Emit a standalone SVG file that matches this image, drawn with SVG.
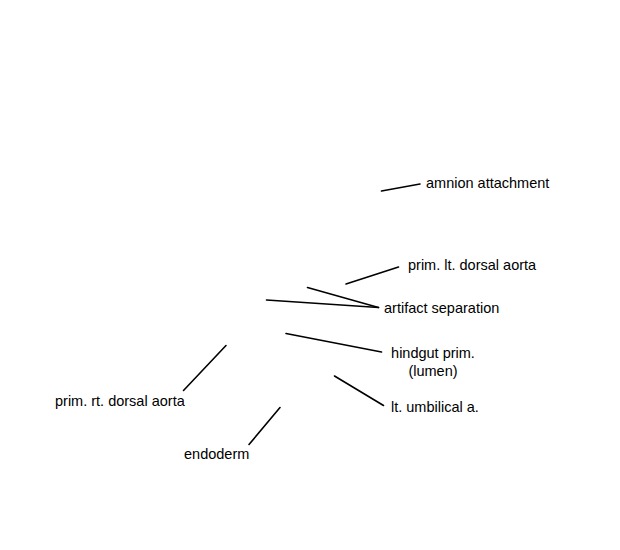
<svg xmlns="http://www.w3.org/2000/svg" width="620" height="550" viewBox="0 0 620 550">
<style>
text{font-family:"Liberation Sans",Arial,sans-serif;font-size:14.5px;fill:#000}
.c line{stroke:#000;stroke-width:1.6;stroke-linecap:round}
</style>
<rect width="620" height="550" fill="#fff"/>
<g id="connectors" class="c">
<line x1="381.5" y1="191" x2="420" y2="184"/>
<line x1="346" y1="284" x2="398.5" y2="267"/>
<line x1="307.5" y1="287.5" x2="378.5" y2="307.5"/>
<line x1="266.5" y1="300" x2="378.5" y2="307.5"/>
<line x1="226" y1="345.5" x2="183.5" y2="390.5"/>
<line x1="286" y1="333.5" x2="381.5" y2="352"/>
<line x1="334.5" y1="376" x2="383.5" y2="405.5"/>
<line x1="280" y1="407.5" x2="249" y2="444.5"/>
</g>
<g id="amnion-attachment"><text x="426" y="187.5">amnion attachment</text></g>
<g id="prim-lt-dorsal-aorta"><text x="408" y="269.5">prim. lt. dorsal aorta</text></g>
<g id="artifact-separation"><text x="384" y="312.5">artifact separation</text></g>
<g id="hindgut-prim"><text x="433" y="358" text-anchor="middle">hindgut prim.</text><text x="433" y="376" text-anchor="middle">(lumen)</text></g>
<g id="lt-umbilical-a"><text x="391" y="411.5">lt. umbilical a.</text></g>
<g id="prim-rt-dorsal-aorta"><text x="55" y="405.5">prim. rt. dorsal aorta</text></g>
<g id="endoderm"><text x="184" y="458.5">endoderm</text></g>
</svg>
